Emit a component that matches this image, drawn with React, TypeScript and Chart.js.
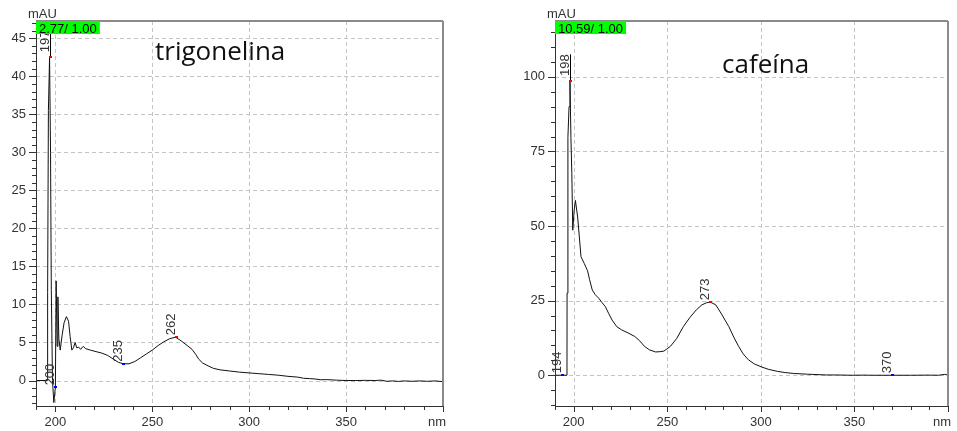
import React, { useEffect, useRef } from 'react';
import { Chart, registerables } from 'chart.js';
Chart.register(...registerables);

// ---------- data ----------
const leftNm = [190, 195.8, 196.0, 196.4, 197.0, 197.5, 197.9, 198.5, 199.2, 200.0, 200.4, 200.9, 201.3, 201.8, 202.5, 203.5, 204.5, 205.7, 206.8, 207.6, 208.5, 209.3, 210.2, 211.0, 212.0, 213.0, 214.4, 215.5, 218, 221, 224, 227, 230, 232.5, 235, 238, 241, 244, 247, 250, 253, 256, 259, 262, 265, 268, 270.5, 272.5, 274, 276, 278.2, 281.5, 285, 290, 295, 300, 305, 310, 315, 320, 325, 328, 331, 334, 337, 340, 345, 350, 355, 360, 365, 368, 371, 374, 377, 380, 384, 388, 392, 396, 400];
const leftAbs = [0, 0, 11.6, 35.5, 42.5, 30, 12, 0, -2.9, -0.9, 13.1, 4.5, 11.0, 5.5, 4.0, 6.0, 7.6, 8.4, 7.8, 5.8, 4.0, 4.3, 5.0, 4.3, 4.4, 4.1, 4.5, 4.2, 4.0, 3.8, 3.6, 3.3, 2.8, 2.4, 2.2, 2.2, 2.5, 3.0, 3.5, 4.0, 4.6, 5.1, 5.5, 5.7, 5.2, 4.6, 4.1, 3.4, 2.8, 2.3, 2.0, 1.6, 1.4, 1.25, 1.1, 1.0, 0.9, 0.8, 0.7, 0.55, 0.45, 0.3, 0.25, 0.2, 0.1, 0.12, 0.05, 0.0, 0.0, 0.02, 0.0, 0.05, -0.1, -0.05, -0.12, -0.05, -0.1, -0.05, -0.1, -0.05, -0.15];

const rightNm = [190, 196.4, 196.45, 196.9, 197.5, 198.0, 198.5, 199.0, 199.5, 200.2, 200.9, 202.1, 203.9, 205.6, 207.4, 208.5, 209.9, 211.5, 213.4, 215.2, 216.9, 218.6, 220.5, 223, 225.6, 229, 232.6, 235, 237.8, 240.5, 243.8, 246, 248.2, 251.7, 255, 258.6, 262, 265.5, 268.5, 271, 273, 275.9, 279, 282.9, 285.5, 288.1, 290.5, 293.3, 296.5, 300.3, 304, 308.9, 313, 317.6, 325, 334.9, 340, 348.9, 355, 360, 370, 380, 390, 395, 398, 400];
const rightAbs = [0, 0, 27.5, 79.7, 90, 98.6, 79.7, 67.5, 48.6, 55, 58.6, 53, 39.7, 37.5, 35, 32, 28.6, 27, 25.8, 24.3, 23, 20.8, 18.5, 16.3, 15.2, 14.2, 13, 11.7, 9.7, 8.5, 7.8, 7.9, 8.1, 9.7, 12.3, 16.3, 19.3, 21.9, 23.6, 24.3, 24.5, 23.6, 20.5, 16.3, 12.8, 9.7, 7.2, 5.2, 3.8, 2.8, 2.0, 1.3, 0.9, 0.6, 0.35, 0.1, 0.1, 0.0, 0.05, 0.0, 0.0, 0.0, 0.05, 0.0, 0.3, 0.1];

const xTicks = [200, 250, 300, 350, 400];
const leftYTicks = [0, 5, 10, 15, 20, 25, 30, 35, 40, 45];
const rightYTicks = [0, 25, 50, 75, 100];

const leftMarkNm = [197, 200, 235, 262];
const leftMarkKind = ['max', 'min', 'min', 'max'];
const rightMarkNm = [194, 198, 273, 370];
const rightMarkKind = ['min', 'max', 'max', 'min'];

const leftTitle = 'trigonelina';
const rightTitle = 'cafeína';
const leftBadge = '2.77/ 1.00';
const rightBadge = '10.59/ 1.00';

// ---------- helpers ----------
function interp(nm: number[], v: number[], q: number) {
  for (let i = 0; i < nm.length - 1; i++) {
    if (q >= nm[i] && q <= nm[i + 1]) {
      const t = (q - nm[i]) / (nm[i + 1] - nm[i] || 1);
      return v[i] + t * (v[i + 1] - v[i]);
    }
  }
  return v[v.length - 1];
}

const TICK_FONT = '13px "Liberation Sans", Arial, sans-serif';

type Props = {
  nm: number[]; abs: number[]; yMin: number; yMax: number; yTicks: number[];
  yMinor: number; yMajor: number; marks: number[]; kinds: string[];
  title: string; titleDx: number; titleDy: number; badge: string;
  areaLeft: number; padRight: number; width: number; left: number;
};

function Spectrum(p: Props) {
  const ref = useRef<HTMLCanvasElement | null>(null);
  useEffect(() => {
    const canvas = ref.current!;
    const line = (ctx: CanvasRenderingContext2D, x1: number, y1: number, x2: number, y2: number) => {
      ctx.beginPath(); ctx.moveTo(x1, y1); ctx.lineTo(x2, y2); ctx.stroke();
    };
    const decor = {
      id: 'decor',
      beforeDatasetsDraw(chart: any) {
        const { ctx, chartArea: a, scales: { x, y } } = chart;
        ctx.save();
        ctx.strokeStyle = '#c4c4c4';
        ctx.lineWidth = 1;
        ctx.setLineDash([4, 3]);
        for (const v of xTicks) {
          if (v >= 400) continue;
          const px = Math.round(x.getPixelForValue(v)) + 0.5;
          line(ctx, px, a.top, px, a.bottom);
        }
        for (const v of p.yTicks) {
          const py = Math.round(y.getPixelForValue(v)) + 0.5;
          line(ctx, a.left, py, a.right, py);
        }
        ctx.restore();
      },
      afterDatasetsDraw(chart: any) {
        const { ctx, chartArea: a, scales: { x, y } } = chart;
        ctx.save();
        // frame top/right
        ctx.strokeStyle = '#8a8a8a';
        ctx.lineWidth = 2;
        line(ctx, a.left, a.top, a.right, a.top);
        line(ctx, a.right, a.top, a.right, a.bottom);
        // axes
        ctx.strokeStyle = '#333';
        ctx.lineWidth = 1;
        line(ctx, a.left + 0.5, a.top, a.left + 0.5, a.bottom + 0.5);
        line(ctx, a.left, a.bottom + 0.5, a.right, a.bottom + 0.5);
        // y ticks
        const start = Math.ceil(p.yMin / p.yMinor) * p.yMinor;
        for (let v = start; v <= p.yMax + 1e-9; v += p.yMinor) {
          const major = Math.abs(v % p.yMajor) < 1e-6 || Math.abs(Math.abs(v % p.yMajor) - p.yMajor) < 1e-6;
          const py = Math.round(y.getPixelForValue(v)) + 0.5;
          line(ctx, a.left - (major ? 7 : 4), py, a.left, py);
        }
        // x ticks
        for (let v = 190; v <= 400; v += 10) {
          const major = v % 50 === 0;
          const px = Math.round(x.getPixelForValue(v)) + 0.5;
          line(ctx, px, a.bottom, px, a.bottom + (major ? 6 : 4));
        }
        // markers + labels
        p.marks.forEach((m, i) => {
          const val = interp(p.nm, p.abs, m);
          const mx = x.getPixelForValue(m);
          const my = y.getPixelForValue(val);
          ctx.font = TICK_FONT;
          const label = String(m);
          const tw = ctx.measureText(label).width;
          const gap = p.kinds[i] === 'max' && val > (p.yMax * 0.6) ? 5 : 2;
          if (gap === 5) {
            ctx.strokeStyle = '#000';
            ctx.lineWidth = 1;
            line(ctx, Math.round(mx) + 0.5, my, Math.round(mx) + 0.5, my - gap - tw);
          }
          ctx.fillStyle = p.kinds[i] === 'max' ? '#ff0000' : '#0000ff';
          ctx.fillRect(Math.round(mx) - 1, Math.round(my) - 1, 3, 2);
          ctx.save();
          ctx.translate(Math.round(mx) - 1, my - gap);
          ctx.rotate(-Math.PI / 2);
          ctx.fillStyle = '#333';
          ctx.textAlign = 'left';
          ctx.textBaseline = 'alphabetic';
          ctx.fillText(label, 0, 0);
          ctx.restore();
        });
        // badge
        ctx.font = TICK_FONT;
        const bw = ctx.measureText(p.badge).width + 6;
        ctx.fillStyle = '#00ff00';
        ctx.fillRect(a.left, a.top, bw, 13);
        ctx.fillStyle = '#000';
        ctx.textAlign = 'left';
        ctx.textBaseline = 'alphabetic';
        ctx.fillText(p.badge, a.left + 3, a.top + 11.5);
        // units
        ctx.fillStyle = '#333';
        ctx.fillText('mAU', a.left - 8, a.top - 3);
        ctx.textAlign = 'right';
        ctx.fillText('nm', a.right + 3, a.bottom + 20);
        // title
        ctx.fillStyle = '#111';
        ctx.textAlign = 'left';
        ctx.font = '26px "Open Sans", "Noto Sans", sans-serif';
        ctx.fillText(p.title, a.left + p.titleDx, a.top + p.titleDy);
        ctx.restore();
      },
    };
    const chart = new Chart(canvas, {
      type: 'line',
      data: {
        datasets: [{
          data: p.nm.map((v, i) => ({ x: v, y: p.abs[i] })),
          borderColor: '#111',
          borderWidth: 1,
          pointRadius: 0,
          tension: 0,
          fill: false,
        }],
      },
      options: {
        animation: false,
        responsive: false,
        maintainAspectRatio: false,
        layout: { padding: { top: 21, right: p.padRight, left: 0, bottom: 0 } },
        plugins: { legend: { display: false }, tooltip: { enabled: false }, title: { display: false } },
        scales: {
          x: {
            type: 'linear', min: 190, max: 400,
            afterBuildTicks: (s: any) => { s.ticks = xTicks.map((v) => ({ value: v })); },
            afterFit: (s: any) => { s.height = 25; },
            ticks: {
              callback: (v: any) => (v === 400 ? '' : String(v)),
              font: { family: '"Liberation Sans", Arial, sans-serif', size: 13 },
              color: '#333', padding: 9, maxRotation: 0, autoSkip: false,
            },
            grid: { display: false, drawTicks: false },
            border: { display: false },
          },
          y: {
            type: 'linear', min: p.yMin, max: p.yMax,
            afterBuildTicks: (s: any) => { s.ticks = p.yTicks.map((v) => ({ value: v })); },
            afterFit: (s: any) => { s.width = p.areaLeft; },
            ticks: {
              font: { family: '"Liberation Sans", Arial, sans-serif', size: 13 },
              color: '#333', padding: 10, autoSkip: false,
            },
            grid: { display: false, drawTicks: false },
            border: { display: false },
          },
        },
      } as any,
      plugins: [decor],
    });
    return () => chart.destroy();
  }, []);
  return (
    <div style={{ position: 'absolute', left: p.left, top: 0, width: p.width, height: 431 }}>
      <canvas ref={ref} width={p.width} height={431} style={{ display: 'block', width: p.width, height: 431 }} />
    </div>
  );
}

export default function App() {
  return (
    <div style={{ position: 'absolute', left: 0, top: 0, width: 957, height: 431, background: '#fff', overflow: 'hidden' }}>
      <Spectrum nm={leftNm} abs={leftAbs} yMin={-3.35} yMax={47.27} yTicks={leftYTicks} yMinor={1} yMajor={5}
        marks={leftMarkNm} kinds={leftMarkKind} title={leftTitle} titleDx={119} titleDy={39} badge={leftBadge}
        areaLeft={36} padRight={27} width={470} left={0} />
      <Spectrum nm={rightNm} abs={rightAbs} yMin={-10.3} yMax={118.7} yTicks={rightYTicks} yMinor={5} yMajor={25}
        marks={rightMarkNm} kinds={rightMarkKind} title={rightTitle} titleDx={167} titleDy={52} badge={rightBadge}
        areaLeft={65} padRight={1} width={467} left={490} />
    </div>
  );
}
